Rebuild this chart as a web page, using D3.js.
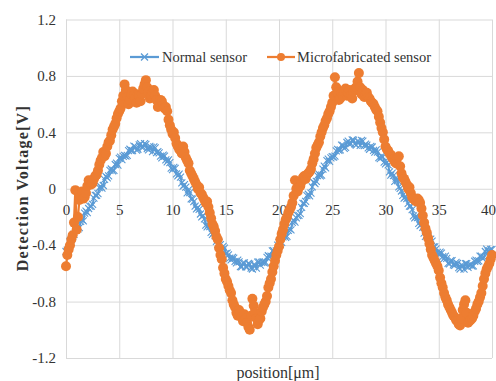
<!DOCTYPE html>
<html>
<head>
<meta charset="utf-8">
<script src="https://cdn.jsdelivr.net/npm/d3@7"></script>
<style>
  html, body { margin: 0; padding: 0; background: #fff; }
  svg { display: block; }
</style>
</head>
<body>
<svg id="chart" width="496" height="381"></svg>
<script>
// ---- data (position in μm, step 0.125) ----
const positions = [
  0,0.125,0.25,0.375,0.5,0.625,0.75,0.875,1,1.125,1.25,1.375,1.5,1.625,1.75,1.875,
  2,2.125,2.25,2.375,2.5,2.625,2.75,2.875,3,3.125,3.25,3.375,3.5,3.625,3.75,3.875,
  4,4.125,4.25,4.375,4.5,4.625,4.75,4.875,5,5.125,5.25,5.375,5.5,5.625,5.75,5.875,
  6,6.125,6.25,6.375,6.5,6.625,6.75,6.875,7,7.125,7.25,7.375,7.5,7.625,7.75,7.875,
  8,8.125,8.25,8.375,8.5,8.625,8.75,8.875,9,9.125,9.25,9.375,9.5,9.625,9.75,9.875,
  10,10.125,10.25,10.375,10.5,10.625,10.75,10.875,11,11.125,11.25,11.375,11.5,11.625,11.75,11.875,
  12,12.125,12.25,12.375,12.5,12.625,12.75,12.875,13,13.125,13.25,13.375,13.5,13.625,13.75,13.875,
  14,14.125,14.25,14.375,14.5,14.625,14.75,14.875,15,15.125,15.25,15.375,15.5,15.625,15.75,15.875,
  16,16.125,16.25,16.375,16.5,16.625,16.75,16.875,17,17.125,17.25,17.375,17.5,17.625,17.75,17.875,
  18,18.125,18.25,18.375,18.5,18.625,18.75,18.875,19,19.125,19.25,19.375,19.5,19.625,19.75,19.875,
  20,20.125,20.25,20.375,20.5,20.625,20.75,20.875,21,21.125,21.25,21.375,21.5,21.625,21.75,21.875,
  22,22.125,22.25,22.375,22.5,22.625,22.75,22.875,23,23.125,23.25,23.375,23.5,23.625,23.75,23.875,
  24,24.125,24.25,24.375,24.5,24.625,24.75,24.875,25,25.125,25.25,25.375,25.5,25.625,25.75,25.875,
  26,26.125,26.25,26.375,26.5,26.625,26.75,26.875,27,27.125,27.25,27.375,27.5,27.625,27.75,27.875,
  28,28.125,28.25,28.375,28.5,28.625,28.75,28.875,29,29.125,29.25,29.375,29.5,29.625,29.75,29.875,
  30,30.125,30.25,30.375,30.5,30.625,30.75,30.875,31,31.125,31.25,31.375,31.5,31.625,31.75,31.875,
  32,32.125,32.25,32.375,32.5,32.625,32.75,32.875,33,33.125,33.25,33.375,33.5,33.625,33.75,33.875,
  34,34.125,34.25,34.375,34.5,34.625,34.75,34.875,35,35.125,35.25,35.375,35.5,35.625,35.75,35.875,
  36,36.125,36.25,36.375,36.5,36.625,36.75,36.875,37,37.125,37.25,37.375,37.5,37.625,37.75,37.875,
  38,38.125,38.25,38.375,38.5,38.625,38.75,38.875,39,39.125,39.25,39.375,39.5,39.625,39.75,39.875,
  40
];

const normalSensor = [
  -0.445,-0.435,-0.42,-0.375,-0.36,-0.339,-0.323,-0.283,-0.273,-0.284,-0.276,-0.232,-0.219,-0.228,-0.173,-0.159,
  -0.170,-0.140,-0.125,-0.123,-0.110,-0.066,-0.047,-0.047,-0.034,0.008,0.016,0.004,0.023,0.067,0.088,0.077,
  0.092,0.131,0.140,0.126,0.131,0.172,0.181,0.167,0.216,0.225,0.207,0.230,0.237,0.232,0.236,0.271,
  0.280,0.270,0.271,0.302,0.298,0.274,0.280,0.311,0.319,0.294,0.295,0.320,0.314,0.285,0.275,0.300,
  0.293,0.264,0.297,0.290,0.256,0.263,0.254,0.232,0.219,0.238,0.231,0.205,0.190,0.205,0.186,0.146,
  0.136,0.152,0.145,0.105,0.092,0.103,0.083,0.041,0.018,0.030,0.011,-0.030,-0.008,-0.027,-0.071,-0.074,
  -0.092,-0.123,-0.143,-0.132,-0.146,-0.179,-0.199,-0.190,-0.214,-0.258,-0.271,-0.258,-0.268,-0.309,-0.323,-0.313,
  -0.332,-0.373,-0.395,-0.380,-0.396,-0.434,-0.408,-0.421,-0.460,-0.457,-0.469,-0.492,-0.505,-0.486,-0.492,-0.515,
  -0.526,-0.506,-0.519,-0.552,-0.553,-0.528,-0.525,-0.553,-0.554,-0.530,-0.535,-0.562,-0.569,-0.539,-0.540,-0.562,
  -0.520,-0.518,-0.541,-0.522,-0.518,-0.525,-0.522,-0.486,-0.475,-0.482,-0.477,-0.441,-0.438,-0.455,-0.441,-0.400,
  -0.381,-0.394,-0.380,-0.341,-0.332,-0.345,-0.338,-0.295,-0.283,-0.292,-0.238,-0.224,-0.236,-0.206,-0.191,-0.189,
  -0.176,-0.132,-0.103,-0.103,-0.090,-0.048,-0.039,-0.051,-0.031,0.014,0.046,0.036,0.053,0.093,0.103,0.091,
  0.097,0.139,0.160,0.148,0.199,0.210,0.194,0.219,0.228,0.225,0.231,0.268,0.279,0.272,0.276,0.309,
  0.308,0.286,0.294,0.328,0.338,0.316,0.320,0.347,0.344,0.318,0.310,0.338,0.334,0.307,0.343,0.338,
  0.306,0.316,0.309,0.290,0.280,0.301,0.296,0.272,0.259,0.276,0.259,0.221,0.213,0.231,0.226,0.188,
  0.176,0.188,0.170,0.119,0.097,0.111,0.093,0.053,0.076,0.058,0.014,0.002,-0.016,-0.047,-0.067,-0.056,
  -0.070,-0.103,-0.123,-0.124,-0.148,-0.193,-0.206,-0.194,-0.204,-0.246,-0.261,-0.252,-0.273,-0.315,-0.338,-0.325,
  -0.342,-0.381,-0.357,-0.372,-0.413,-0.412,-0.426,-0.451,-0.466,-0.449,-0.457,-0.482,-0.495,-0.478,-0.494,-0.529,
  -0.533,-0.510,-0.509,-0.540,-0.543,-0.522,-0.530,-0.559,-0.569,-0.542,-0.545,-0.570,-0.531,-0.531,-0.557,-0.540,
  -0.538,-0.548,-0.547,-0.514,-0.506,-0.515,-0.512,-0.478,-0.477,-0.496,-0.484,-0.445,-0.428,-0.443,-0.44,-0.43,
  -0.43
];

const microSensor = [
  -0.55,-0.47,-0.43,-0.40,-0.36,-0.33,-0.24,-0.01,-0.29,-0.20,-0.08,-0.05,-0.02,-0.07,-0.06,-0.03,
  0.02,0.06,0.05,0.03,0.04,0.07,0.09,0.10,0.13,0.17,0.20,0.22,0.26,0.23,0.25,0.30,
  0.33,0.34,0.38,0.42,0.44,0.46,0.50,0.53,0.55,0.57,0.62,0.66,0.74,0.70,0.65,0.60,
  0.63,0.67,0.69,0.66,0.64,0.61,0.67,0.66,0.62,0.67,0.71,0.74,0.77,0.72,0.69,0.64,
  0.66,0.69,0.70,0.66,0.63,0.58,0.60,0.63,0.62,0.59,0.57,0.58,0.55,0.49,0.45,0.42,
  0.39,0.40,0.36,0.32,0.30,0.28,0.27,0.25,0.30,0.26,0.22,0.20,0.18,0.13,0.11,0.09,
  0.07,0.05,0.03,0.00,0.01,-0.03,-0.04,-0.06,-0.08,-0.10,-0.09,-0.13,-0.17,-0.21,-0.25,-0.27,
  -0.30,-0.34,-0.36,-0.42,-0.47,-0.50,-0.56,-0.60,-0.64,-0.66,-0.69,-0.72,-0.74,-0.79,-0.82,-0.84,
  -0.88,-0.90,-0.86,-0.88,-0.91,-0.94,-0.89,-0.92,-0.95,-0.98,-1.00,-0.90,-0.78,-0.83,-0.88,-0.92,
  -0.96,-0.93,-0.92,-0.87,-0.84,-0.82,-0.80,-0.76,-0.70,-0.67,-0.64,-0.59,-0.55,-0.51,-0.47,-0.44,
  -0.41,-0.36,-0.32,-0.29,-0.25,-0.22,-0.20,-0.17,-0.15,-0.13,-0.10,-0.05,0.06,0.00,-0.02,0.01,
  0.02,0.05,0.08,0.09,0.07,0.10,0.11,0.12,0.14,0.18,0.21,0.25,0.29,0.31,0.33,0.37,
  0.40,0.43,0.45,0.48,0.50,0.53,0.55,0.58,0.61,0.66,0.79,0.72,0.68,0.63,0.64,0.68,
  0.66,0.69,0.71,0.66,0.68,0.70,0.66,0.64,0.69,0.71,0.72,0.76,0.82,0.72,0.67,0.70,
  0.65,0.67,0.68,0.65,0.64,0.62,0.61,0.60,0.58,0.56,0.55,0.51,0.47,0.43,0.40,0.35,
  0.30,0.28,0.27,0.25,0.24,0.22,0.21,0.19,0.18,0.22,0.23,0.16,0.11,0.08,0.07,0.05,
  0.03,0.00,0.01,-0.03,-0.06,-0.07,-0.08,-0.09,-0.07,-0.08,-0.10,-0.14,-0.19,-0.24,-0.28,-0.31,
  -0.35,-0.39,-0.43,-0.47,-0.49,-0.51,-0.53,-0.55,-0.58,-0.63,-0.67,-0.70,-0.74,-0.77,-0.79,-0.82,
  -0.84,-0.86,-0.88,-0.90,-0.91,-0.93,-0.94,-0.96,-0.97,-0.92,-0.86,-0.82,-0.79,-0.88,-0.95,-0.94,
  -0.93,-0.92,-0.90,-0.87,-0.85,-0.82,-0.80,-0.77,-0.74,-0.69,-0.64,-0.60,-0.57,-0.55,-0.53,-0.50,
  -0.47
];

const xTicks = [0, 5, 10, 15, 20, 25, 30, 35, 40];
const yTicks = [-1.2, -0.8, -0.4, 0, 0.4, 0.8, 1.2];
const seriesNames = ["Normal sensor", "Microfabricated sensor"];
const xTitle = "position[μm]";
const yTitle = "Detection Voltage[V]";

// ---- drawing ----
const FONT = "'Liberation Serif', 'Times New Roman', serif";
const BLUE = "#5B9BD5", ORANGE = "#ED7D31", GRID = "#d9d9d9";
const svg = d3.select("#chart");
const L = 66, R = 492, T = 19.5, B = 358;
const x = d3.scaleLinear().domain([0, 40]).range([L, R]);
const y = d3.scaleLinear().domain([-1.2, 1.2]).range([B, T]);

// gridlines
svg.append("g").attr("transform", `translate(0,${B})`)
  .call(d3.axisBottom(x).tickValues(xTicks).tickSize(-(B - T)).tickFormat(""))
  .call(g => g.select(".domain").remove())
  .call(g => g.selectAll("line").attr("stroke", GRID).attr("stroke-width", 1));
svg.append("g").attr("transform", `translate(${L},0)`)
  .call(d3.axisLeft(y).tickValues(yTicks).tickSize(-(R - L)).tickFormat(""))
  .call(g => g.select(".domain").remove())
  .call(g => g.selectAll("line").attr("stroke", GRID).attr("stroke-width", 1));

// y tick labels
const fmtY = d => d === 0 ? "0" : (d < 0 ? "-" : "") + Math.abs(d).toFixed(1);
svg.append("g").attr("transform", `translate(${L},0)`)
  .call(d3.axisLeft(y).tickValues(yTicks).tickSize(0).tickPadding(10).tickFormat(fmtY))
  .call(g => g.select(".domain").remove())
  .call(g => g.selectAll("text").attr("font-family", FONT).attr("font-size", 15).attr("fill", "#333"));

// x tick labels (axis crosses at 0)
svg.append("g").attr("transform", `translate(0,${y(0)})`)
  .call(d3.axisBottom(x).tickValues(xTicks).tickSize(0).tickPadding(16).tickFormat(d => String(d)))
  .call(g => g.select(".domain").remove())
  .call(g => g.selectAll("text").attr("font-family", FONT).attr("font-size", 15).attr("fill", "#333"))
  .call(g => g.selectAll(".tick").filter(d => d === 40).select("text").attr("x", -4));

const pts = positions.map((p, i) => ({ p, n: normalSensor[i], m: microSensor[i] }));

// Normal sensor
const lineN = d3.line().x(d => x(d.p)).y(d => y(d.n));
svg.append("path").datum(pts).attr("d", lineN)
  .attr("fill", "none").attr("stroke", BLUE).attr("stroke-width", 2);
const xMark = (cx, cy, s) => `M${cx - s},${cy - s}L${cx + s},${cy + s}M${cx - s},${cy + s}L${cx + s},${cy - s}`;
svg.append("g").selectAll("path").data(pts).join("path")
  .attr("d", d => xMark(x(d.p), y(d.n), 3.5))
  .attr("stroke", BLUE).attr("stroke-width", 1.1).attr("fill", "none");

// Microfabricated sensor
const lineM = d3.line().x(d => x(d.p)).y(d => y(d.m));
svg.append("path").datum(pts).attr("d", lineM)
  .attr("fill", "none").attr("stroke", ORANGE).attr("stroke-width", 2.25);
svg.append("g").selectAll("circle").data(pts).join("circle")
  .attr("cx", d => x(d.p)).attr("cy", d => y(d.m)).attr("r", 5)
  .attr("fill", ORANGE);

// legend
const lg = svg.append("g");
const ly = 57;
lg.append("line").attr("x1", 130).attr("x2", 159).attr("y1", ly).attr("y2", ly)
  .attr("stroke", BLUE).attr("stroke-width", 2.25);
lg.append("path").attr("d", xMark(144.5, ly, 3.5)).attr("stroke", BLUE).attr("stroke-width", 1.3);
lg.append("text").attr("x", 162).attr("y", ly).attr("dy", "0.35em")
  .attr("font-family", FONT).attr("font-size", 14.5).attr("fill", "#333").text(seriesNames[0]);
lg.append("line").attr("x1", 267).attr("x2", 295).attr("y1", ly).attr("y2", ly)
  .attr("stroke", ORANGE).attr("stroke-width", 2.25);
lg.append("circle").attr("cx", 281).attr("cy", ly).attr("r", 4).attr("fill", ORANGE);
lg.append("text").attr("x", 297).attr("y", ly).attr("dy", "0.35em")
  .attr("font-family", FONT).attr("font-size", 14.5).attr("fill", "#333").text(seriesNames[1]);

// axis titles
svg.append("text")
  .attr("transform", `translate(28,${(T + B) / 2}) rotate(-90)`)
  .attr("text-anchor", "middle")
  .attr("font-family", FONT).attr("font-size", 16).attr("font-weight", "bold")
  .attr("fill", "#333").attr("textLength", 165).attr("lengthAdjust", "spacing")
  .text(yTitle);
svg.append("text")
  .attr("x", 278).attr("y", 378).attr("text-anchor", "middle")
  .attr("font-family", FONT).attr("font-size", 16).attr("fill", "#333")
  .text(xTitle);
</script>
</body>
</html>
